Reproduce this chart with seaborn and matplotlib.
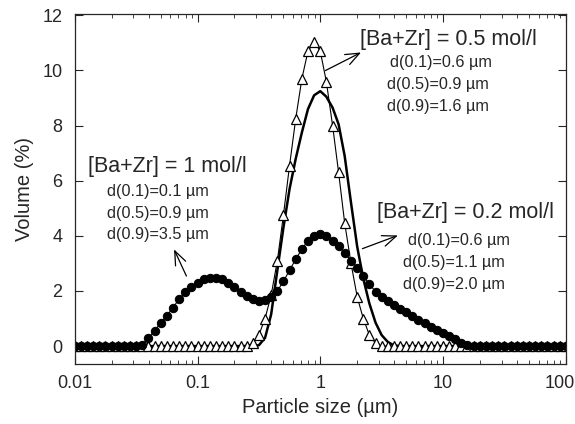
import numpy as np
import pandas as pd
import matplotlib
matplotlib.use("Agg")
import matplotlib.pyplot as plt
import matplotlib.transforms as mtransforms
import seaborn as sns

# particle size bins (um), shared by the three measurements
size_um = [
    0.0100, 0.0112, 0.0126, 0.0141, 0.0158, 0.0178, 0.0200, 0.0224, 0.0251, 0.0282,
    0.0316, 0.0355, 0.0398, 0.0447, 0.0501, 0.0562, 0.0631, 0.0708, 0.0794, 0.0891,
    0.100, 0.112, 0.126, 0.141, 0.158, 0.178, 0.200, 0.224, 0.251, 0.282,
    0.316, 0.355, 0.398, 0.447, 0.501, 0.562, 0.631, 0.708, 0.794, 0.891,
    1.00, 1.12, 1.26, 1.41, 1.58, 1.78, 2.00, 2.24, 2.51, 2.82,
    3.16, 3.55, 3.98, 4.47, 5.01, 5.62, 6.31, 7.08, 7.94, 8.91,
    10.0, 11.2, 12.6, 14.1, 15.8, 17.8, 20.0, 22.4, 25.1, 28.2,
    31.6, 35.5, 39.8, 44.7, 50.1, 56.2, 63.1, 70.8, 79.4, 89.1,
    100.0,
]

# [Ba+Zr] = 1 mol/l (filled circles)
vol_1mol = [
    0, 0, 0, 0, 0, 0, 0, 0, 0, 0,
    0, 0.05, 0.3, 0.55, 0.85, 1.1, 1.4, 1.7, 1.95, 2.15,
    2.3, 2.42, 2.48, 2.47, 2.42, 2.3, 2.15, 1.98, 1.82, 1.7,
    1.64, 1.66, 1.78, 2.0, 2.35, 2.75, 3.15, 3.52, 3.82, 4.0,
    4.05, 4.0, 3.83, 3.62, 3.37, 3.1, 2.85, 2.55, 2.25, 1.98,
    1.78, 1.62, 1.48, 1.35, 1.22, 1.08, 0.95, 0.82, 0.7, 0.58,
    0.47, 0.35, 0.24, 0.13, 0.03, 0, 0, 0, 0, 0,
    0, 0, 0, 0, 0, 0, 0, 0, 0, 0,
    0,
]

# [Ba+Zr] = 0.5 mol/l (open triangles)
vol_05mol = [
    0, 0, 0, 0, 0, 0, 0, 0, 0, 0,
    0, 0, 0, 0, 0, 0, 0, 0, 0, 0,
    0, 0, 0, 0, 0, 0, 0, 0, 0, 0.1,
    0.4, 1.0, 1.85, 3.1, 4.75, 6.55, 8.25, 9.7, 10.7, 11.05,
    10.7, 9.6, 8.0, 6.3, 4.47, 3.0, 1.78, 1.0, 0.4, 0.1,
    0, 0, 0, 0, 0, 0, 0, 0, 0, 0,
    0, 0, 0, 0, 0, 0, 0, 0, 0, 0,
    0, 0, 0, 0, 0, 0, 0, 0, 0, 0,
    0,
]

# [Ba+Zr] = 0.2 mol/l (solid line)
vol_02mol = [
    0, 0, 0, 0, 0, 0, 0, 0, 0, 0,
    0, 0, 0, 0, 0, 0, 0, 0, 0, 0,
    0, 0, 0, 0, 0, 0, 0, 0, 0, 0,
    0.03, 0.3, 1.15, 2.75, 4.3, 5.7, 6.8, 7.75, 8.6, 9.1,
    9.25, 9.05, 8.65, 8.05, 6.9, 5.2, 3.6, 2.45, 1.55, 0.85,
    0.4, 0.15, 0.02, 0, 0, 0, 0, 0, 0, 0,
    0, 0, 0, 0, 0, 0, 0, 0, 0, 0,
    0, 0, 0, 0, 0, 0, 0, 0, 0, 0,
    0,
]

labels_1mol = ["[Ba+Zr] = 1 mol/l", "d(0.1)=0.1 µm", "d(0.5)=0.9 µm", "d(0.9)=3.5 µm"]
labels_05mol = ["[Ba+Zr] = 0.5 mol/l", "d(0.1)=0.6 µm", "d(0.5)=0.9 µm", "d(0.9)=1.6 µm"]
labels_02mol = ["[Ba+Zr] = 0.2 mol/l", "d(0.1)=0.6 µm", "d(0.5)=1.1 µm", "d(0.9)=2.0 µm"]

df = pd.DataFrame({"size": size_um, "c1": vol_1mol, "c05": vol_05mol, "c02": vol_02mol})

sns.set_style("ticks")
plt.rcParams["font.family"] = ["Liberation Sans", "DejaVu Sans"]

fig = plt.figure(figsize=(5.75, 4.24), dpi=100)
ax = fig.add_axes([0.130, 0.1415, 0.854, 0.8255])

sns.lineplot(data=df, x="size", y="c02", ax=ax, color="black", linewidth=1.8)
sns.lineplot(data=df, x="size", y="c05", ax=ax, color="black", linewidth=0.8,
             marker="^", markersize=7, markerfacecolor="white",
             markeredgecolor="black", markeredgewidth=0.9)
sns.lineplot(data=df, x="size", y="c1", ax=ax, color="black", linewidth=0.8,
             marker="o", markersize=6, markerfacecolor="black",
             markeredgecolor="black")

ax.set_xscale("log")
ax.set_xlim(0.01, 100)
ax.set_ylim(-0.65, 12.05)
ax.set_yticks([0, 2, 4, 6, 8, 10, 12])
ax.set_xticks([0.01, 0.1, 1, 10, 100])
ax.set_xticklabels(["0.01", "0.1", "1", "10", "100"])
ax.tick_params(which="both", direction="in", top=True, right=True, labelsize=13)
ax.tick_params(which="major", length=6, width=0.8)
ax.tick_params(which="minor", length=3, width=0.6)
ax.tick_params(axis="x", which="major", pad=8)
ax.tick_params(axis="y", which="major", pad=9)
ax.tick_params(axis="y", which="minor", left=False, right=False)
for s in ax.spines.values():
    s.set_linewidth(0.9)

# nudge "100" left a little so it stays inside the figure
last = ax.get_xticklabels()[-1]
last.set_transform(last.get_transform() + mtransforms.ScaledTranslation(-6 / 100, 0, fig.dpi_scale_trans))

ax.set_xlabel("Particle size (µm)", fontsize=14.5, labelpad=4)
ax.set_ylabel("Volume (%)", fontsize=14.5, labelpad=6)

big, small = 15.5, 11.7
arrow = dict(arrowstyle="->,head_length=1.0,head_width=0.4", color="black", lw=0.9)

# 1 mol/l
ax.text(0.0128, 6.5, labels_1mol[0], fontsize=big, va="center")
for k, t in enumerate(labels_1mol[1:]):
    ax.text(0.0182, 5.6 - 0.78 * k, t, fontsize=small, va="center")
ax.annotate("", xy=(0.063, 3.6), xytext=(0.083, 2.45), arrowprops=arrow)

# 0.5 mol/l
ax.text(2.1, 11.13, labels_05mol[0], fontsize=big, va="center")
for k, t in enumerate(labels_05mol[1:]):
    ax.text(3.69 if k == 0 else 3.5, 10.29 - 0.8 * k, t, fontsize=small, va="center")
ax.annotate("", xy=(2.25, 10.7), xytext=(1.05, 9.95), arrowprops=arrow)

# 0.2 mol/l
ax.text(2.89, 4.84, labels_02mol[0], fontsize=big, va="center")
for k, t in enumerate(labels_02mol[1:]):
    ax.text(5.18 if k == 0 else 4.71, 3.82 - 0.8 * k, t, fontsize=small, va="center")
ax.annotate("", xy=(4.5, 4.05), xytext=(2.1, 3.5), arrowprops=arrow)

fig.savefig("out.png", dpi=100)
